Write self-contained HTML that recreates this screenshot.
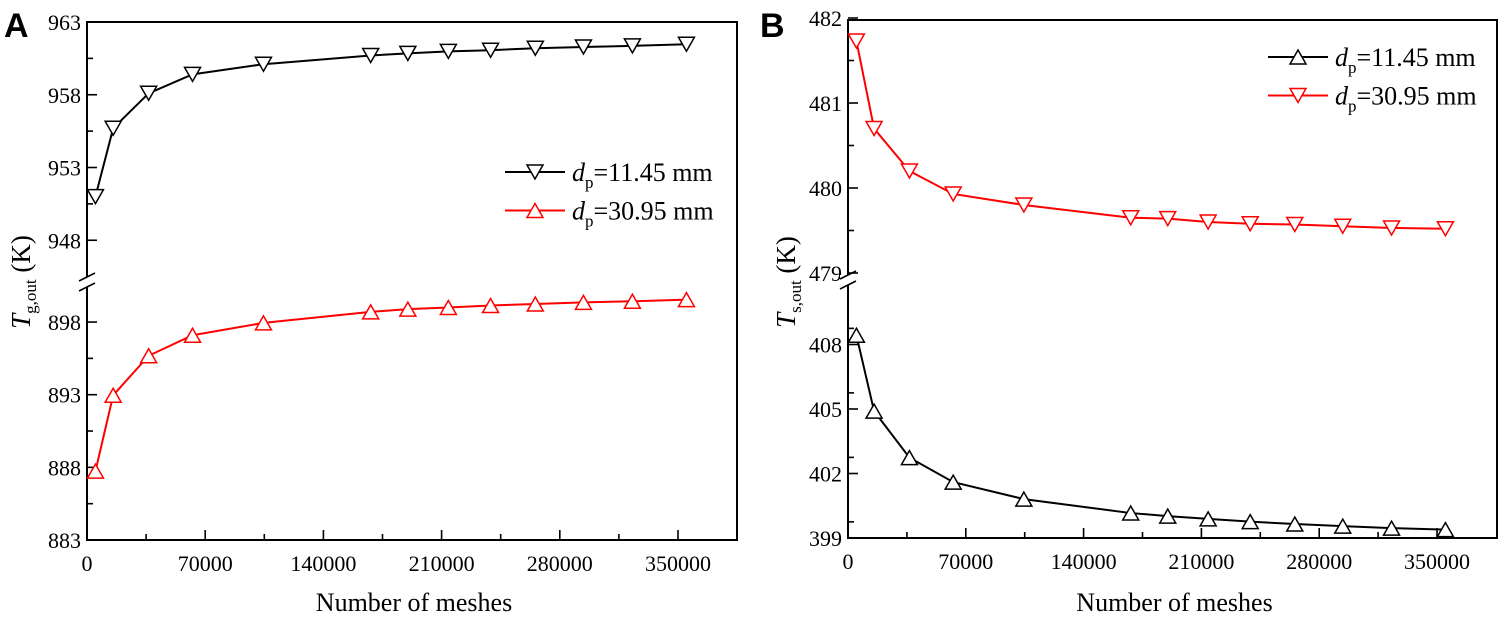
<!DOCTYPE html>
<html><head><meta charset="utf-8">
<style>
html,body{margin:0;padding:0;background:#fff;}
svg{display:block;font-family:"Liberation Serif",serif;}
</style></head>
<body>
<svg id="chart" width="1499" height="619" viewBox="0 0 1499 619" xmlns="http://www.w3.org/2000/svg"></svg>
<script>
const meshes = [5000,15500,36500,62500,104500,168000,190000,214000,239000,265500,294000,323000,355000];
const gasSmall = [951.0,955.7,958.1,959.4,960.1,960.7,960.84,960.98,961.06,961.2,961.28,961.36,961.47];
const gasLarge = [887.74,892.96,895.68,897.09,897.94,898.70,898.89,899.0,899.14,899.24,899.35,899.43,899.54];
const solidSmall = [408.43,404.90,402.74,401.60,400.81,400.16,400.02,399.89,399.76,399.65,399.55,399.46,399.39];
const solidLarge = [481.73,480.70,480.20,479.93,479.80,479.65,479.64,479.60,479.58,479.57,479.55,479.53,479.52];
const xTicks = [0,70000,140000,210000,280000,350000];
const aUpperTicks = [963,958,953,948];
const aLowerTicks = [898,893,888,883];
const bUpperTicks = [482,481,480,479];
const bLowerTicks = [408,405,402,399];

const NS="http://www.w3.org/2000/svg";
const svg=document.getElementById('chart');
function mk(tag,attrs,parent){const e=document.createElementNS(NS,tag);for(const k in attrs)e.setAttribute(k,attrs[k]);(parent||svg).appendChild(e);return e;}

function panel(p){
  const g=mk('g',{});
  
  
  const X=v=>p.x0+(v/350000)*p.xs;
  const YU=v=>p.uTop+(p.uMax-v)*p.uK;
  const YL=v=>p.lBot-(v-p.lMin)*p.lK;
  const fr=mk('rect',{x:p.x0,y:p.top,width:p.right-p.x0,height:p.lBot-p.top,fill:'none',stroke:'#000','stroke-width':2},g);
  
  
  for(let i=0;i<=10;i++){const v=i*35000;const x=X(v);const L=(i%2==0)?10:6;
    mk('line',{x1:x,y1:p.lBot,x2:x,y2:p.lBot-L,stroke:'#000','stroke-width':1.6},g);}
  xTicks.forEach(v=>{const t=mk('text',{x:X(v),y:p.lBot+31,'text-anchor':'middle','font-size':22,fill:'#000'},g);t.textContent=v;
    
    });
  p.uTicks.forEach((v,i)=>{const y=YU(v);mk('line',{x1:p.x0,y1:y,x2:p.x0+10,y2:y,stroke:'#000','stroke-width':1.6},g);
    const t=mk('text',{x:p.x0-6,y:y+8,'text-anchor':'end','font-size':22,fill:'#000'},g);t.textContent=v;
    
    
    if(i<p.uTicks.length-1){const m=YU(v-p.uStep/2);mk('line',{x1:p.x0,y1:m,x2:p.x0+6,y2:m,stroke:'#000','stroke-width':1.6},g);}
  });
  p.lTicks.forEach((v,i)=>{const y=YL(v);mk('line',{x1:p.x0,y1:y,x2:p.x0+10,y2:y,stroke:'#000','stroke-width':1.6},g);
    const t=mk('text',{x:p.x0-6,y:y+8,'text-anchor':'end','font-size':22,fill:'#000'},g);t.textContent=v;
    
    
    const m=YL(v+p.lStep/2);if(m>p.brk+8)mk('line',{x1:p.x0,y1:m,x2:p.x0+6,y2:m,stroke:'#000','stroke-width':1.6},g);
  });
  mk('rect',{x:p.x0-8,y:p.brk-5,width:16,height:10,fill:'#fff'},g);
  const bk=mk('g',{},g);
  
  
  mk('line',{x1:p.x0-8,y1:p.brk-1,x2:p.x0+8,y2:p.brk-9,stroke:'#000','stroke-width':1.6},bk);
  mk('line',{x1:p.x0-8,y1:p.brk+9,x2:p.x0+8,y2:p.brk+1,stroke:'#000','stroke-width':1.6},bk);
  p.series.forEach(s=>{
    const Y=s.upper?YU:YL;
    const pts=meshes.map((m,i)=>X(m)+','+Y(s.vals[i])).join(' ');
    const sg=mk('g',{},g);
    
    
    mk('polyline',{points:pts,fill:'none',stroke:s.color,'stroke-width':2},sg);
    meshes.forEach((m,i)=>{const tri=marker(X(m),Y(s.vals[i]),s.down,s.color,sg);
      
      });
  });
  p.legend.forEach((l,i)=>{
    const y=p.legY+i*38.5;
    const lg=mk('g',{},g);
    
    
    mk('line',{x1:p.legX,y1:y,x2:p.legX+60,y2:y,stroke:l.color,'stroke-width':2},lg);
    marker(p.legX+30,y,l.down,l.color,lg);
    const t=mk('text',{x:p.legX+67,y:y+9,'font-size':26,fill:'#000'},lg);
    t.innerHTML='<tspan font-style="italic">d</tspan><tspan font-size="17" dy="7">p</tspan><tspan dy="-7">='+l.text+'</tspan>';
  });
  const xt=mk('text',{x:(p.x0+p.right)/2+2,y:611,'text-anchor':'middle','font-size':26,fill:'#000'},g);
  xt.textContent='Number of meshes';
  
  
  const yt=mk('text',{transform:`translate(${p.ytx},282) rotate(-90)`,'text-anchor':'middle','font-size':27,fill:'#000'},g);
  yt.innerHTML='<tspan font-style="italic">T</tspan><tspan font-size="17" dy="6">'+p.sub+'</tspan><tspan dy="-6"> (K)</tspan>';
  
  
  const lt=mk('text',{x:p.letX,y:37,'font-size':34,'font-weight':'bold','font-family':'Liberation Sans, sans-serif',fill:'#000'},g);
  lt.textContent=p.letter;
  
  
}
function marker(x,y,down,color,parent){
  const h=14,w=8;
  const pts=down?`${x-w},${y-h/2} ${x+w},${y-h/2} ${x},${y+h/2}`:`${x-w},${y+h/2} ${x+w},${y+h/2} ${x},${y-h/2}`;
  return mk('polygon',{points:pts,fill:'#fff',stroke:color,'stroke-width':1.5},parent);
}
panel({name:'panel-a-gas-temperature',x0:87,xs:591,right:737,top:22,uTop:22,uMax:963,uK:14.55,uStep:5,lBot:540,lMin:883,lK:14.53,lStep:5,
  uTicks:aUpperTicks,lTicks:aLowerTicks,brk:282,
  series:[{name:'series-dp-11-45',vals:gasSmall,upper:true,down:true,color:'#000'},{name:'series-dp-30-95',vals:gasLarge,upper:false,down:false,color:'#f00'}],
  legend:[{text:'11.45 mm',down:true,color:'#000'},{text:'30.95 mm',down:false,color:'#f00'}],legX:505,legY:172,
  sub:'g,out',ytx:30,letter:'A',letX:4});
panel({name:'panel-b-solid-temperature',x0:848,xs:589,right:1497,top:20,uTop:18,uMax:482,uK:85,uStep:1,lBot:538,lMin:399,lK:21.5,lStep:1.5,
  uTicks:bUpperTicks,lTicks:bLowerTicks,brk:280,
  series:[{name:'series-dp-11-45',vals:solidSmall,upper:false,down:false,color:'#000'},{name:'series-dp-30-95',vals:solidLarge,upper:true,down:true,color:'#f00'}],
  legend:[{text:'11.45 mm',down:false,color:'#000'},{text:'30.95 mm',down:true,color:'#f00'}],legX:1268,legY:57,
  sub:'s,out',ytx:795,letter:'B',letX:760});
</script>
</body></html>
